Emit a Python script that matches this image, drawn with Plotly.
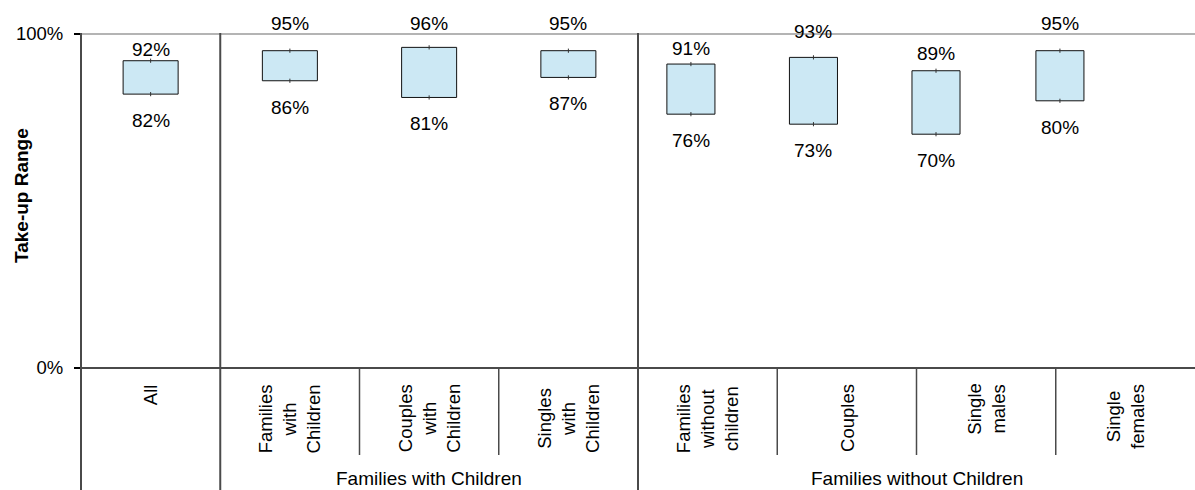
import plotly.graph_objects as go

# ---- data -------------------------------------------------------------
categories = [
    "All",
    "Families<br>with<br>Children",
    "Couples<br>with<br>Children",
    "Singles<br>with<br>Children",
    "Families<br>without<br>children",
    "Couples",
    "Single<br>males",
    "Single<br>females",
]
low_pct = [82, 86, 81, 87, 76, 73, 70, 80]
high_pct = [92, 95, 96, 95, 91, 93, 89, 95]
groups = ["Families with Children", "Families without Children"]
y_tick_vals = [0, 100]
y_tick_text = ["0%", "100%"]

# ---- layout constants (pixels / axis units) ---------------------------
W, H = 1195, 490
M_L, M_R, M_T, M_B = 81, 0, 34, 122
PLOT_W = W - M_L - M_R
PLOT_H = H - M_T - M_B
N = len(categories)

# box centres and widths in category units (x axis runs 0..8)
box_x = [0.5, 1.5, 2.5, 3.5, 4.38, 5.26, 6.14, 7.03]
box_w = [0.395] * 4 + [0.345] * 4
# how far each upper label sits above its box top (px)
top_lift = [11, 27, 24, 27, 16, 26, 17, 27]
BOTTOM_DROP = 26.5

FONT = "Liberation Sans, Arial, sans-serif"
FILL = "#CCE8F4"
DARK = "#4a4a4a"


def py(px):
    """pixel row -> paper y"""
    return (H - M_B - px) / PLOT_H


def pxx(px):
    """pixel column -> paper x"""
    return (px - M_L) / PLOT_W


fig = go.Figure()

# range boxes
fig.add_trace(go.Bar(
    x=box_x,
    y=[h - l for h, l in zip(high_pct, low_pct)],
    base=low_pct,
    width=box_w,
    marker=dict(color=FILL, line=dict(color="#111111", width=1)),
    hoverinfo="skip",
    showlegend=False,
))

# tiny high/low ticks at box centres
fig.add_trace(go.Scatter(
    x=box_x + box_x,
    y=high_pct + low_pct,
    mode="markers",
    marker=dict(symbol="line-ns", size=3, line=dict(color="#333333", width=1)),
    hoverinfo="skip",
    showlegend=False,
))

annotations = []
for i in range(N):
    annotations.append(dict(
        x=box_x[i], y=high_pct[i], xref="x", yref="y",
        text=f"{high_pct[i]}%", showarrow=False,
        xanchor="center", yanchor="middle", yshift=top_lift[i],
        font=dict(family=FONT, size=19, color="black"),
    ))
    annotations.append(dict(
        x=box_x[i], y=low_pct[i], xref="x", yref="y",
        text=f"{low_pct[i]}%", showarrow=False,
        xanchor="center", yanchor="middle", yshift=-BOTTOM_DROP,
        font=dict(family=FONT, size=19, color="black"),
    ))
    # rotated category label
    annotations.append(dict(
        x=(i + 0.5) / N, y=py(382), xref="paper", yref="paper",
        text=categories[i], showarrow=False, textangle=-90,
        xanchor="center", yanchor="top", align="center",
        font=dict(family=FONT, size=18.5, color="black"),
    ))

# group labels, centred under their spans
annotations.append(dict(
    x=(1 / N + 4 / N) / 2, y=py(478), xref="paper", yref="paper",
    text=groups[0], showarrow=False, xanchor="center", yanchor="middle",
    font=dict(family=FONT, size=19, color="black"),
))
annotations.append(dict(
    x=(4 / N + 1) / 2, y=py(478), xref="paper", yref="paper",
    text=groups[1], showarrow=False, xanchor="center", yanchor="middle",
    font=dict(family=FONT, size=19, color="black"),
))

# y axis title
annotations.append(dict(
    x=pxx(21), y=py(196), xref="paper", yref="paper",
    text="<b>Take-up Range</b>", showarrow=False, textangle=-90,
    xanchor="center", yanchor="middle",
    font=dict(family=FONT, size=19, color="black"),
))

shapes = []
# 100% reference line (light) and 0% baseline (dark)
shapes.append(dict(type="line", xref="paper", yref="paper",
                   x0=0, x1=1, y0=1, y1=1,
                   line=dict(color="#b4b4b4", width=2)))
shapes.append(dict(type="line", xref="paper", yref="paper",
                   x0=0, x1=1, y0=0, y1=0,
                   line=dict(color=DARK, width=2)))
# left axis line and major group separators run to the bottom edge
for k in (0, 1, 4):
    shapes.append(dict(type="line", xref="paper", yref="paper",
                       x0=k / N, x1=k / N, y0=py(33), y1=py(H),
                       line=dict(color=DARK, width=2)))
# minor separators in the category band
for k in (2, 3, 5, 6, 7):
    shapes.append(dict(type="line", xref="paper", yref="paper",
                       x0=k / N, x1=k / N, y0=0, y1=py(455),
                       line=dict(color=DARK, width=1.5)))

fig.update_layout(
    width=W, height=H,
    margin=dict(l=M_L, r=M_R, t=M_T, b=M_B, pad=0),
    paper_bgcolor="white", plot_bgcolor="white",
    barmode="overlay",
    xaxis=dict(range=[0, N], visible=False, fixedrange=True),
    yaxis=dict(
        range=[0, 100],
        tickvals=y_tick_vals, ticktext=y_tick_text,
        ticks="outside", ticklen=6, tickwidth=2, tickcolor="black",
        showgrid=False, zeroline=False, showline=False,
        ticklabelstandoff=7,
        tickfont=dict(family=FONT, size=18.5, color="black"),
        fixedrange=True,
    ),
    annotations=annotations,
    shapes=shapes,
    showlegend=False,
)

fig.write_html("out.html")
